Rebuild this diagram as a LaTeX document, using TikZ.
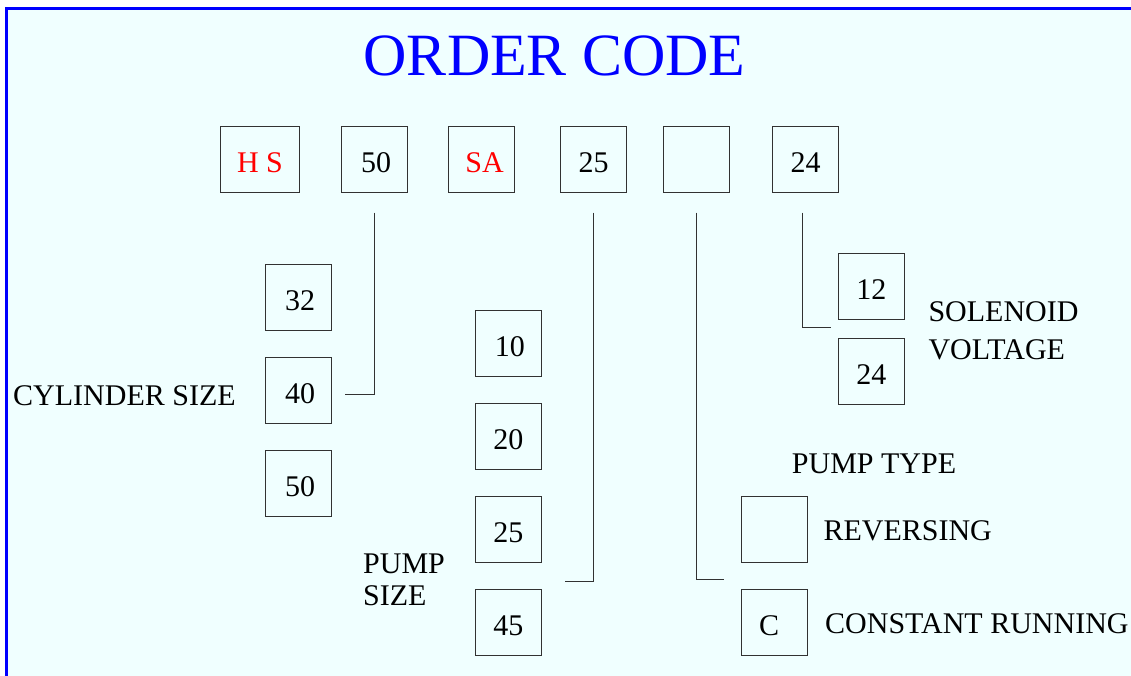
\documentclass[tikz,border=0pt]{standalone}
\usepackage{fontspec}
\setmainfont{Liberation Serif}
\definecolor{bgazure}{RGB}{240,255,255}
\definecolor{boxline}{RGB}{50,50,50}
\tikzset{
  box/.style={draw=boxline, line width=1pt, minimum width=66pt, minimum height=66pt,
    inner sep=0pt, text height=26pt, text depth=0pt, font=\fontsize{30}{36}\selectfont},
  lbl/.style={anchor=base west, inner sep=0pt, font=\fontsize{30}{36}\selectfont},
  conn/.style={draw=boxline, line width=1pt}
}
\begin{document}
\begin{tikzpicture}[x=1pt, y=-1pt]
\useasboundingbox (0,0) rectangle (1131,675);
\fill[white] (0,0) rectangle (1131,675);
\fill[bgazure] (6.5,8.5) rectangle (1140,690);
\draw[blue, line width=3pt] (6.5,690) -- (6.5,8.5) -- (1140,8.5);

\node[anchor=base, inner sep=0pt, text=blue, font=\fontsize{60}{72}\selectfont] (title) at (554.5,75) {ORDER CODE};

% top row
\node[box, text=red, minimum width=78.6pt] (ths) at (260,159) {H S};
\node[box] (t50) at (374,159) {\hspace{4pt}50};
\node[box, text=red] (tsa) at (481.5,159) {\hspace{6pt}SA};
\node[box] (t25) at (593.5,159) {25};
\node[box] (tem) at (696,159) {};
\node[box] (t24) at (805.5,159) {24};

% cylinder size
\node[box] (c32) at (298.5,297) {\hspace{3pt}32};
\node[box] (c40) at (298.5,390) {\hspace{3pt}40};
\node[box] (c50) at (298.5,483) {\hspace{3pt}50};
\node[lbl] (lcyl) at (13,405) {CYLINDER SIZE};

% pump size
\node[box] (p10) at (508.3,343.3) {\hspace{3pt}10};
\node[box] (p20) at (508.3,436.3) {20};
\node[box] (p25) at (508.3,529) {25};
\node[box] (p45) at (508.3,622) {45};
\node[lbl] (lpump1) at (363,573.3) {PUMP};
\node[lbl] (lpump2) at (363,605) {SIZE};

% solenoid voltage
\node[box] (v12) at (871.3,286.5) {12};
\node[box] (v24) at (871.3,371.5) {24};
\node[lbl] (lsol1) at (928.3,321.7) {SOLENOID};
\node[lbl] (lsol2) at (928.3,359.3) {VOLTAGE};

% pump type
\node[lbl] (ltype) at (791.7,473.3) {PUMP TYPE};
\node[box] (rrev) at (774,529) {};
\node[box] (rcon) at (774,622) {\hspace{-10pt}C};
\node[lbl] (lrev) at (823.3,540) {REVERSING};
\node[lbl] (lcon) at (825,633.3) {CONSTANT RUNNING};

% connectors
\coordinate (e50) at (345,394);
\coordinate (e25) at (565,581.7);
\coordinate (eem) at (724.3,579.3);
\coordinate (e24) at (830.7,327.7);
\draw[conn] ([yshift=-20pt]t50.south) |- (e50);
\draw[conn] ([yshift=-20pt]t25.south) |- (e25);
\draw[conn] ([yshift=-20pt]tem.south) |- (eem);
\draw[conn] ([xshift=-3pt,yshift=-20pt]t24.south) |- (e24);
\end{tikzpicture}
\end{document}
